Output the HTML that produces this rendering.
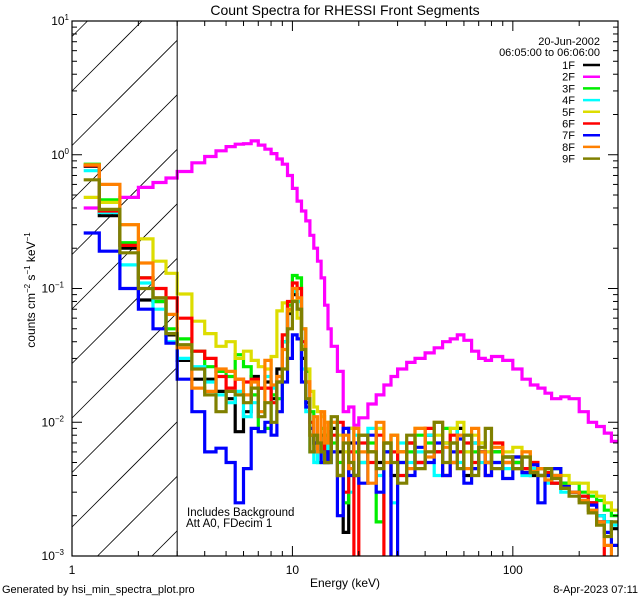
<!DOCTYPE html>
<html><head><meta charset="utf-8"><style>
html,body{margin:0;padding:0;background:#fff;width:640px;height:600px;overflow:hidden;}
svg{display:block;font-family:"Liberation Sans","DejaVu Sans",sans-serif;overflow:hidden;}
</style></head><body>
<svg id="chart" width="640" height="600" viewBox="0 0 640 600" xmlns="http://www.w3.org/2000/svg">
<rect width="640" height="600" fill="#fff"/>
<defs><clipPath id="plotclip"><rect x="72" y="21" width="546" height="535"/></clipPath></defs>
<g id="hatch"></g>
<g id="series" clip-path="url(#plotclip)"></g>
<g id="axes"></g>
<text x="345" y="15" font-size="14" text-anchor="middle">Count Spectra for RHESSI Front Segments</text>
<text x="345" y="587" font-size="12" text-anchor="middle">Energy (keV)</text>
<text transform="translate(35,290) rotate(-90)" font-size="12" text-anchor="middle">counts cm<tspan font-size="8" dy="-5">−2</tspan><tspan dy="5"> s</tspan><tspan font-size="8" dy="-5">−1</tspan><tspan dy="5"> keV</tspan><tspan font-size="8" dy="-5">−1</tspan></text>
<text x="187" y="516" font-size="11.5">Includes Background</text>
<text x="186" y="527" font-size="11.5">Att A0, FDecim 1</text>
<text x="2" y="593" font-size="11">Generated by hsi_min_spectra_plot.pro</text>
<text x="638" y="593" font-size="11" text-anchor="end">8-Apr-2023 07:11</text>
<text x="600" y="45" font-size="11" text-anchor="end">20-Jun-2002</text>
<text x="600" y="56" font-size="11" text-anchor="end">06:05:00 to 06:06:00</text>
<g id="legend"></g>
</svg>
<script>
const edges = [1.13,1.33,1.65,2.0,2.33,2.67,3.0,3.5,4,4.5,5,5.5,6,6.5,7,7.5,8,8.5,9,9.5,10,10.5,11,11.5,12,12.5,13,13.5,14,14.5,15,16,17,18,19,20,22,24,26,28,30,33,36,40,44,48,52,56,60,65,70,75,80,90,100,110,120,130,140,150,165,180,200,220,240,260,280,300];
const seriesNames = ["1F","2F","3F","4F","5F","6F","7F","8F","9F"];
const seriesColors = ["#000000","#ff00ff","#00ee00","#00ffff","#dddd00","#ff0000","#0000ff","#ff8000","#808000"];
const s1F = [0.82,0.35,0.2,0.082,0.08,0.045, 0.029,0.021,0.021,0.017,0.015,0.0085,0.012,0.022,0.018,0.02,0.015,0.025,0.04,0.065,0.09,0.07,0.03,0.014,0.008,0.007,0.006,0.008,0.005,0.006,
 0.009,0.006,0.0015,0.007,0.004,0.008,0.006,0.005,0.007,0.004,0.006,0.007,0.005,0.008,0.006,0.007,0.005,0.009,0.004,0.007,0.006,0.005,0.006,0.0055,0.005,0.0045,0.004,0.0045,0.004,0.0035,0.0035,0.003,0.0028,0.0025,0.002,0.0018,0.0016];
const s2F = [0.40,0.44,0.48,0.57,0.62,0.67, 0.75,0.87,0.97,1.07,1.15,1.2,1.21,1.27,1.18,1.1,1.02,0.93,0.85,0.7,0.56,0.45,0.38,0.32,0.25,0.2,0.16,0.12,0.075,0.05,
 0.037,0.024,0.012,0.013,0.0095,0.0108,0.0137,0.016,0.019,0.022,0.025,0.028,0.030,0.033,0.036,0.040,0.042,0.045,0.041,0.034,0.030,0.029,0.031,0.029,0.025,0.021,0.019,0.018,0.0165,0.015,0.0155,0.015,0.012,0.010,0.0093,0.0083,0.0072];
const s3F = [0.85,0.46,0.22,0.12,0.08,0.05, 0.042,0.034,0.026,0.024,0.022,0.032,0.026,0.016,0.0085,0.009,0.016,0.015,0.04,0.075,0.125,0.12,0.05,0.024,0.012,0.006,0.005,0.009,0.008,0.006,
 0.007,0.005,0.0025,0.009,0.006,0.005,0.007,0.0018,0.006,0.008,0.005,0.006,0.008,0.007,0.006,0.009,0.007,0.006,0.008,0.006,0.007,0.005,0.006,0.0055,0.005,0.0055,0.0045,0.004,0.004,0.0045,0.0035,0.0035,0.003,0.0028,0.0026,0.0022,0.002];
const s4F = [0.76,0.37,0.15,0.11,0.07,0.04, 0.03,0.026,0.02,0.016,0.014,0.017,0.011,0.014,0.012,0.022,0.018,0.02,0.04,0.07,0.095,0.08,0.025,0.012,0.006,0.005,0.006,0.005,0.007,0.005,
 0.006,0.004,0.006,0.003,0.008,0.005,0.009,0.004,0.006,0.0025,0.007,0.005,0.006,0.008,0.004,0.007,0.009,0.005,0.006,0.007,0.005,0.006,0.005,0.0045,0.0055,0.004,0.0045,0.004,0.0035,0.004,0.003,0.003,0.0028,0.0022,0.002,0.0018,0.0017];
const s5F = [0.48,0.44,0.30,0.235,0.16,0.13, 0.091,0.057,0.046,0.037,0.040,0.030,0.034,0.029,0.026,0.025,0.031,0.068,0.078,0.068,0.081,0.06,0.037,0.025,0.017,0.013,0.012,0.011,0.01,0.009,
 0.01,0.008,0.006,0.009,0.007,0.008,0.006,0.009,0.007,0.008,0.006,0.007,0.009,0.006,0.008,0.007,0.009,0.01,0.006,0.008,0.007,0.006,0.007,0.006,0.0065,0.006,0.005,0.0045,0.0045,0.004,0.004,0.0035,0.0035,0.003,0.0028,0.0025,0.0022];
const s6F = [0.83,0.38,0.21,0.12,0.1,0.085, 0.06,0.034,0.03,0.022,0.018,0.021,0.02,0.021,0.018,0.018,0.014,0.02,0.045,0.08,0.11,0.1,0.04,0.02,0.01,0.008,0.006,0.007,0.005,0.006,
 0.008,0.01,0.003,0.006,0.0008,0.007,0.005,0.008,0.0008,0.006,0.004,0.007,0.005,0.009,0.006,0.004,0.008,0.006,0.007,0.005,0.006,0.004,0.007,0.005,0.0055,0.0045,0.005,0.004,0.0042,0.0035,0.0033,0.003,0.0028,0.0025,0.0018,0.0009,0.0008];
const s7F = [0.26,0.19,0.10,0.07,0.05,0.039, 0.021,0.012,0.006,0.0064,0.005,0.0025,0.0045,0.009,0.0085,0.01,0.008,0.012,0.02,0.03,0.045,0.042,0.02,0.013,0.009,0.007,0.006,0.005,0.006,0.005,
 0.006,0.002,0.009,0.004,0.007,0.0035,0.008,0.003,0.006,0.0008,0.005,0.004,0.0065,0.005,0.007,0.004,0.006,0.0075,0.0035,0.0045,0.006,0.004,0.005,0.0038,0.0055,0.0042,0.0048,0.0025,0.004,0.0045,0.0033,0.003,0.0026,0.0024,0.0018,0.0015,0.0012];
const s8F = [0.84,0.60,0.30,0.155,0.085,0.064, 0.036,0.018,0.017,0.025,0.024,0.021,0.016,0.02,0.012,0.029,0.019,0.022,0.035,0.07,0.1,0.085,0.05,0.02,0.008,0.011,0.006,0.012,0.007,0.01,
 0.01,0.004,0.008,0.0045,0.009,0.006,0.0035,0.01,0.005,0.008,0.006,0.0045,0.009,0.0055,0.01,0.0065,0.005,0.008,0.0045,0.009,0.006,0.005,0.0065,0.005,0.0045,0.006,0.0043,0.0045,0.0037,0.004,0.0032,0.003,0.0026,0.0022,0.0018,0.0012,0.0009];
const s9F = [0.65,0.39,0.185,0.10,0.085,0.046, 0.038,0.025,0.016,0.012,0.017,0.016,0.014,0.018,0.011,0.014,0.01,0.02,0.025,0.05,0.08,0.07,0.035,0.015,0.006,0.008,0.007,0.006,0.005,0.005,
 0.011,0.004,0.007,0.005,0.004,0.008,0.006,0.0045,0.007,0.005,0.0035,0.008,0.0045,0.006,0.01,0.005,0.007,0.0045,0.008,0.004,0.0065,0.009,0.0045,0.0055,0.0045,0.0055,0.0042,0.004,0.0045,0.0038,0.0032,0.0028,0.0025,0.0021,0.0017,0.0014,0.0018];
const seriesValues = [s1F,s2F,s3F,s4F,s5F,s6F,s7F,s8F,s9F];
const xTickLabels = ["1","10","100"];
const yTickExponents = ["1","0","−1","−2","−3"];
const hatchLimit = 3.0;

const NS = "http://www.w3.org/2000/svg";
const X0=72, X1=618, Y0=21, Y1=556;
const XMIN=1, XMAX=300, YMIN=1e-3, YMAX=10;
function xs(e){return X0+(Math.log10(e)-Math.log10(XMIN))/(Math.log10(XMAX)-Math.log10(XMIN))*(X1-X0);}
function ys(v){v=Math.max(v,1e-5);return Y1-(Math.log10(v)-Math.log10(YMIN))/(Math.log10(YMAX)-Math.log10(YMIN))*(Y1-Y0);}
function mk(tag,attrs,parent){const el=document.createElementNS(NS,tag);for(const k in attrs)el.setAttribute(k,attrs[k]);parent.appendChild(el);return el;}

const hatch=document.getElementById('hatch');
const hx=xs(hatchLimit);
for(let y0=Y1+80;y0>Y0-300;y0-=54.5){
  const sx=X0+Math.max(0,y0-Y1);
  const ex=Math.min(hx,X0+(y0-Y0));
  if(ex<=sx) continue;
  const ln=mk('line',{x1:sx,y1:y0-(sx-X0),x2:ex,y2:y0-(ex-X0),stroke:'#000','stroke-width':0.8},hatch);
  
  
}
const axes=document.getElementById('axes');
const hl=mk('line',{x1:hx,y1:Y0,x2:hx,y2:Y1,stroke:'#000','stroke-width':1},axes);



const sg=document.getElementById('series');
seriesValues.forEach((vals,i)=>{
  let d='';
  for(let j=0;j<vals.length;j++){
    const xa=xs(edges[j]),xb=xs(edges[j+1]),y=Math.min(ys(vals[j]),Y1+3);
    d+=(j===0?'M':'L')+xa.toFixed(1)+','+y.toFixed(1)+'L'+xb.toFixed(1)+','+y.toFixed(1);
  }
  const p=mk('path',{d:d,fill:'none',stroke:seriesColors[i],'stroke-width':3.2,'stroke-linejoin':'miter'},sg);
  
  
});

const fr=mk('rect',{x:X0,y:Y0,width:X1-X0,height:Y1-Y0,fill:'none',stroke:'#000','stroke-width':1.2},axes);


for(let dec=1;dec<=100;dec*=10){
  for(let m=1;m<=9;m++){
    const e=dec*m; if(e>XMAX) break;
    const x=xs(e), len=(m===1)?10:5;
    const t1=mk('line',{x1:x,y1:Y1,x2:x,y2:Y1-len,stroke:'#000','stroke-width':1},axes);
    
    
    const t2=mk('line',{x1:x,y1:Y0,x2:x,y2:Y0+len,stroke:'#000','stroke-width':1},axes);
    
    
  }
}
xTickLabels.forEach((lab,i)=>{
  const t=mk('text',{x:xs(Math.pow(10,i)),y:574,'font-size':12,'text-anchor':'middle'},axes);
  t.textContent=lab;
  
  
});
for(let p=-3;p<=1;p++){
  for(let m=1;m<=9;m++){
    const v=Math.pow(10,p)*m; if(v>YMAX*1.0001) break;
    const y=ys(v), len=(m===1)?10:5;
    const t1=mk('line',{x1:X0,y1:y,x2:X0+len,y2:y,stroke:'#000','stroke-width':1},axes);
    
    
    const t2=mk('line',{x1:X1,y1:y,x2:X1-len,y2:y,stroke:'#000','stroke-width':1},axes);
    
    
  }
}
yTickExponents.forEach((ex,i)=>{
  const y=ys(Math.pow(10,1-i));
  const t=mk('text',{x:64,y:y+4,'font-size':12,'text-anchor':'end'},axes);
  t.textContent='10';
  const ts=mk('tspan',{'font-size':8,dy:-5},t);
  ts.textContent=ex;
  
  
  if(ex.length===1){t.setAttribute('x',69);}
});
const lg=document.getElementById('legend');
seriesNames.forEach((n,i)=>{
  const y=65+i*11.7;
  const t=mk('text',{x:575,y:y+4,'font-size':11,'text-anchor':'end'},lg);
  t.textContent=n;
  
  
  const l=mk('line',{x1:583,y1:y,x2:600,y2:y,stroke:seriesColors[i],'stroke-width':2.5},lg);
  
  
});
</script>
</body></html>
